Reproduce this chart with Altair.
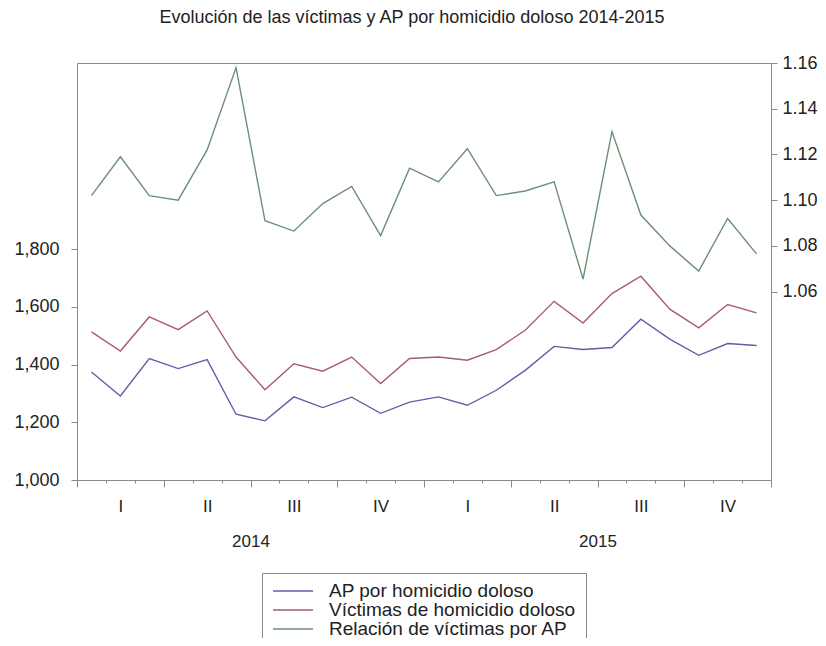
import altair as alt
import pandas as pd

months = list(range(24))  # Jan 2014 .. Dec 2015
ap = [1374, 1291, 1421, 1386, 1417, 1228, 1205, 1288, 1251, 1287, 1231, 1270,
      1288, 1259, 1311, 1380, 1463, 1452, 1459, 1557, 1488, 1432, 1473, 1466]
victimas = [1513, 1447, 1565, 1521, 1586, 1426, 1313, 1403, 1377, 1426, 1334, 1421,
            1426, 1415, 1452, 1519, 1619, 1544, 1646, 1706, 1592, 1527, 1608, 1579]
relacion = [1.102, 1.119, 1.102, 1.100, 1.122, 1.158, 1.091, 1.0865, 1.0985, 1.106, 1.0845, 1.114,
            1.108, 1.1225, 1.102, 1.104, 1.108, 1.0655, 1.130, 1.0935, 1.080, 1.069, 1.092, 1.0765]

series = ["AP por homicidio doloso", "Víctimas de homicidio doloso", "Relación de víctimas por AP"]
colors = ["#5f5fa8", "#a65c72", "#6b9175"]
left_ticks = [1000, 1200, 1400, 1600, 1800]
right_ticks = [1.06, 1.08, 1.10, 1.12, 1.14, 1.16]

rows = []
for name, vals in zip(series, [ap, victimas, relacion]):
    for m, v in zip(months, vals):
        rows.append({"t": m + 0.5, "v": v, "serie": name})
df = pd.DataFrame(rows)

FONT = "Liberation Sans"
GRAY = "#8a8a8a"
TXT = "#222"

x_vals = [k * 0.5 for k in range(49)]
x_axis = alt.Axis(
    values=x_vals,
    title=None,
    grid=False,
    domainColor=GRAY,
    tickColor=GRAY,
    tickSize={"condition": [{"test": "datum.value % 3 === 0", "value": 7},
                            {"test": "datum.value % 1 === 0", "value": 3}],
              "value": 0},
    labelExpr=("(datum.value - 1.5) % 3 === 0 ? ['I','II','III','IV'][((datum.value - 1.5) / 3) % 4] : "
               "(datum.value === 6 ? ['', '2014'] : (datum.value === 18 ? ['', '2015'] : ''))"),
    labelOverlap=False,
    labelFlush=False,
    labelBound=False,
    labelPadding=18,
    labelBaseline="top",
    labelLineHeight=28,
    labelFontSize=17,
    labelFont=FONT,
    labelColor=TXT,
)

x_enc = alt.X("t:Q", scale=alt.Scale(domain=[0, 24], nice=False, zero=False), axis=x_axis)

color_enc = alt.Color(
    "serie:N",
    scale=alt.Scale(domain=series, range=colors),
    legend=alt.Legend(
        title=None,
        orient="none",
        legendX=185,
        legendY=510,
        symbolType="stroke",
        symbolSize=1600,
        symbolStrokeWidth=1.5,
        clipHeight=16,
        labelFontSize=19,
        labelFont=FONT,
        labelColor=TXT,
        rowPadding=0,
        labelOffset=15,
        strokeColor=GRAY,
        fillColor="white",
        padding=10,
        labelLimit=400,
    ),
    sort=series,
)

left = alt.Chart(df).transform_filter(
    alt.FieldOneOfPredicate(field="serie", oneOf=series[:2])
).mark_line(strokeWidth=1.4).encode(
    x=x_enc,
    y=alt.Y("v:Q", scale=alt.Scale(domain=[1000, 2445], nice=False, zero=False),
            axis=alt.Axis(values=left_ticks, format=",.0f", title=None, grid=False,
                          domainColor=GRAY, tickColor=GRAY, tickSize=6, labelPadding=12,
                          labelFontSize=18, labelFont=FONT, labelColor=TXT, orient="left")),
    color=color_enc,
)

right = alt.Chart(df).transform_filter(
    alt.FieldEqualPredicate(field="serie", equal=series[2])
).mark_line(strokeWidth=1.4).encode(
    x=x_enc,
    y=alt.Y("v:Q", scale=alt.Scale(domain=[0.9776, 1.16], nice=False, zero=False),
            axis=alt.Axis(values=right_ticks, format=".2f", title=None, grid=False,
                          domainColor=GRAY, tickColor=GRAY, tickSize=6, labelPadding=5,
                          labelFontSize=18, labelFont=FONT, labelColor=TXT, orient="right")),
    color=color_enc,
)

chart = alt.layer(left, right).resolve_scale(y="independent").properties(
    width=694,
    height=417,
    autosize=alt.AutoSizeParams(type="none"),
    padding={"left": 69, "top": 55, "right": 47, "bottom": 158},
    title=alt.TitleParams(
        "Evolución de las víctimas y AP por homicidio doloso 2014-2015",
        font=FONT, fontSize=18, fontWeight="normal", color=TXT,
        anchor="middle", offset=27, dx=-12,
    ),
).configure_view(stroke=GRAY, strokeWidth=1)

chart.save("out.html", embed_options={"renderer": "svg", "actions": False})
